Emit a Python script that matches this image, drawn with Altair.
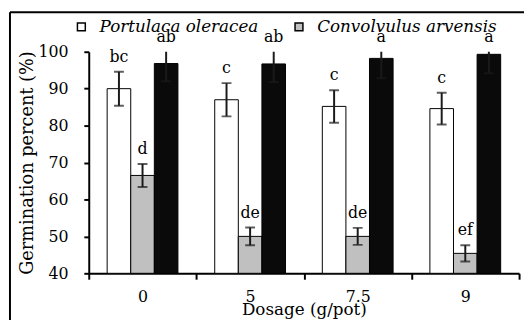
import altair as alt
import pandas as pd

dosages = ["0", "5", "7.5", "9"]
series = ["Portulaca oleracea", "Convolvulus arvensis", "Other"]

white_mean = [90.0, 87.0, 85.2, 84.6]
white_err = [4.6, 4.5, 4.4, 4.3]
white_letters = ["bc", "c", "c", "c"]

gray_mean = [66.5, 50.0, 50.0, 45.4]
gray_err = [3.1, 2.4, 2.3, 2.2]
gray_letters = ["d", "de", "de", "ef"]

black_mean = [96.8, 96.7, 98.2, 99.3]
black_err = [4.8, 4.9, 5.4, 5.1]
black_letters = ["ab", "ab", "a", "a"]

y_ticks = [40, 50, 60, 70, 80, 90, 100]
colors = ["#ffffff", "#c0c0c0", "#0a0a0a"]
FONT = "DejaVu Serif"

rows = []
for s, means, errs, lets in zip(series,
                                [white_mean, gray_mean, black_mean],
                                [white_err, gray_err, black_err],
                                [white_letters, gray_letters, black_letters]):
    for d, m, e, l in zip(dosages, means, errs, lets):
        rows.append({"dosage": d, "series": s, "mean": m,
                     "lo": m - e, "hi": m + e,
                     "laby": min(m + e, 100.0), "letter": l})
df = pd.DataFrame(rows)

x_enc = alt.X("dosage:N", sort=dosages,
              scale=alt.Scale(paddingInner=0, paddingOuter=0),
              axis=alt.Axis(title="Dosage (g/pot)", labelAngle=0, tickBand="extent",
                            tickSize=6, tickWidth=2, tickColor="black",
                            domainWidth=2, domainColor="black",
                            labelFont=FONT, labelFontSize=16, labelColor="black",
                            labelPadding=10, titleFont=FONT, titleFontSize=17,
                            titleFontWeight="normal", titleColor="black",
                            titlePadding=-3))
xo_enc = alt.XOffset("series:N", sort=series,
                     scale=alt.Scale(paddingInner=0, paddingOuter=0.78))
y_scale = alt.Scale(domain=[40, 100], zero=False, nice=False)
y_axis = alt.Axis(title="Germination percent (%)", values=y_ticks, tickCount=7,
                  labelOverlap=False, grid=False, tickSize=5, tickWidth=2,
                  tickColor="black", domainWidth=2, domainColor="black",
                  labelFont=FONT, labelFontSize=16, labelColor="black",
                  labelPadding=16, titleFont=FONT, titleFontSize=18,
                  titleFontWeight="normal", titleColor="black", titlePadding=2)

base = alt.Chart(df).encode(x=x_enc, xOffset=xo_enc)

bars = base.mark_bar(stroke="black", strokeWidth=1).encode(
    y=alt.Y("mean:Q", scale=y_scale, axis=y_axis),
    y2=alt.datum(40),
    fill=alt.Fill("series:N", scale=alt.Scale(domain=series, range=colors),
                  legend=alt.Legend(values=series[:2], orient="none", legendX=-16, legendY=-34,
                                    direction="horizontal", title=None, symbolType="square",
                                    symbolSize=64, symbolStrokeColor="black",
                                    symbolStrokeWidth=1.5, labelFont=FONT,
                                    labelFontStyle="italic", labelFontSize=17,
                                    labelColor="black", columnPadding=32, labelLimit=400,
                                    labelOffset=10)),
)

err = base.mark_rule(color="#1a1a1a", strokeWidth=2, clip=True).encode(
    y=alt.Y("lo:Q", scale=y_scale, axis=y_axis), y2="hi:Q")
cap_lo = base.mark_tick(color="#1a1a1a", size=10, thickness=2, clip=True).encode(
    y=alt.Y("lo:Q", scale=y_scale, axis=y_axis))
cap_hi = base.mark_tick(color="#1a1a1a", size=10, thickness=2, clip=True).encode(
    y=alt.Y("hi:Q", scale=y_scale, axis=y_axis))

labels = base.mark_text(font=FONT, fontSize=16, color="black", baseline="bottom", dy=-7).encode(
    y=alt.Y("laby:Q", scale=y_scale, axis=y_axis), text="letter:N")

frame_df = pd.DataFrame({"k": [0]})
frame_left = alt.Chart(frame_df).mark_rule(color="black", strokeWidth=2).encode(
    x=alt.value(-80), y=alt.value(-40), y2=alt.value(300))
frame_top = alt.Chart(frame_df).mark_rule(color="black", strokeWidth=2).encode(
    x=alt.value(-80), x2=alt.value(460), y=alt.value(-40))

chart = alt.layer(bars, err, cap_lo, cap_hi, labels, frame_left, frame_top).properties(
    width=437, height=225,
    autosize=alt.AutoSizeParams(type="none"),
    padding={"left": 82, "top": 42, "right": 5, "bottom": 45},
).configure_view(stroke=None)

chart.save("out.html", embed_options={"renderer": "svg", "actions": False})
